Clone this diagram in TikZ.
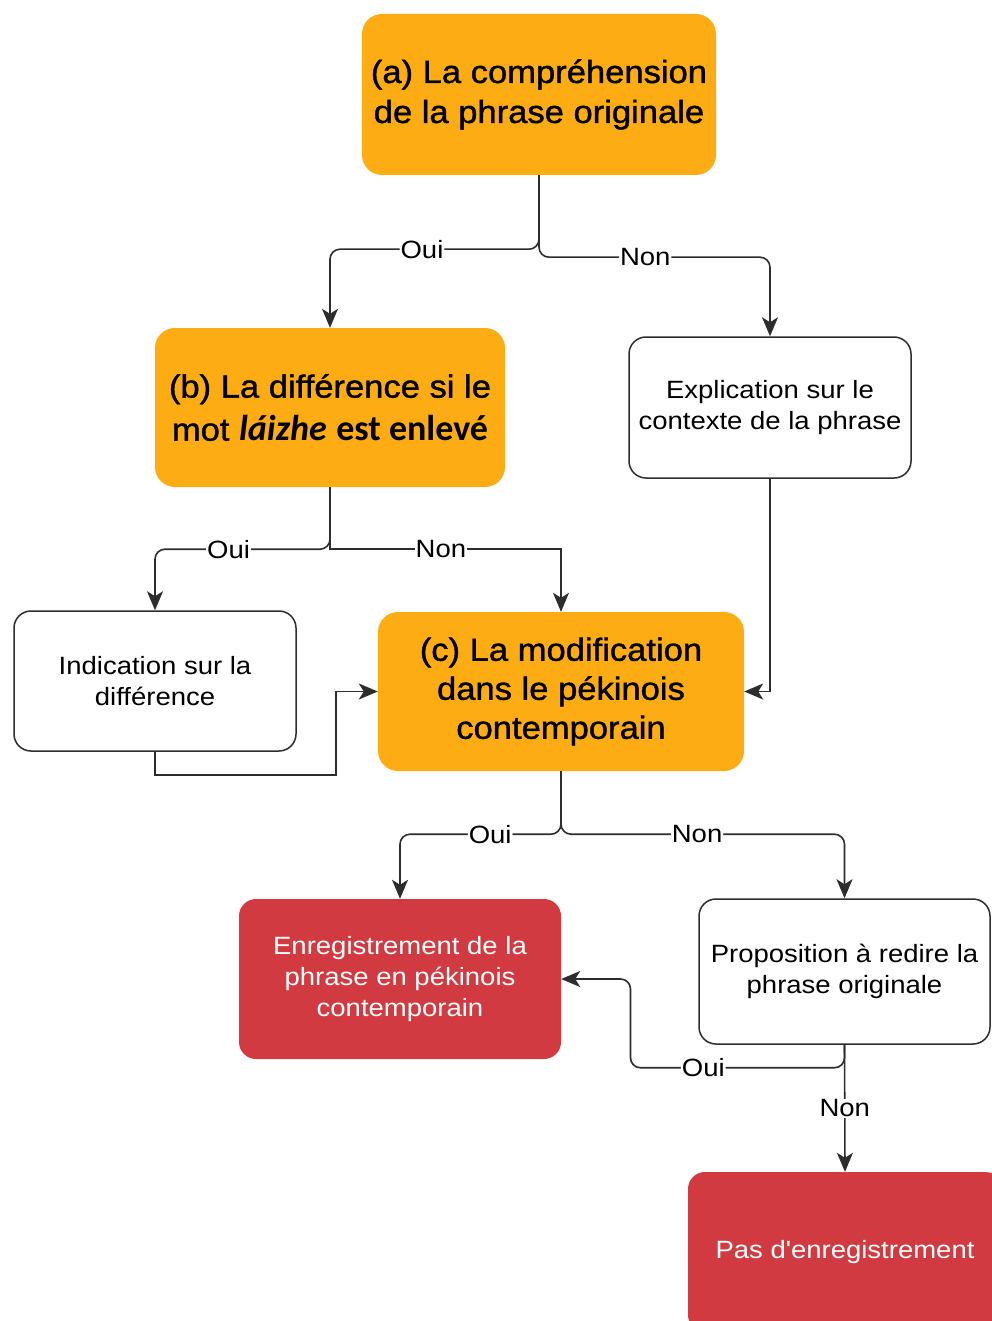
\documentclass[tikz,border=0pt]{standalone}
\usepackage{fontspec}
\setmainfont{Liberation Sans}[FakeStretch=1.1]
\newfontfamily\heavy{Liberation Sans}[FakeStretch=1.08, FakeBold=1.2]
\newfontfamily\nomap{Liberation Sans}[FakeStretch=1.1, Ligatures=TeXOff]
\newfontfamily\calib{Carlito}
\usetikzlibrary{arrows.meta}
\definecolor{orangefill}{RGB}{253,172,20}
\definecolor{redfill}{RGB}{208,58,64}
\definecolor{linec}{RGB}{45,45,45}
\begin{document}
\begin{tikzpicture}[x=1pt,y=-1pt,
  obox/.style={rectangle, rounded corners=20pt, fill=orangefill, draw=none, align=center, inner sep=0pt, text=black, font=\heavy\fontsize{32}{40}\selectfont},
  wbox/.style={rectangle, rounded corners=17pt, fill=white, draw=linec, line width=1.5pt, align=center, inner sep=0pt, text=black, font=\fontsize{25}{31}\selectfont},
  rbox/.style={rectangle, rounded corners=17pt, fill=redfill, draw=none, align=center, inner sep=0pt, text=white, font=\fontsize{25}{31}\selectfont},
  conn/.style={draw=linec, line width=1.6pt, rounded corners=10pt, -{Stealth[length=19pt,width=16pt,inset=5pt]}},
  plainconn/.style={draw=linec, line width=1.6pt, -{Stealth[length=19pt,width=16pt,inset=5pt]}},
  lbl/.style={fill=white, inner sep=1pt, text=black, font=\fontsize{25}{30}\selectfont}
]
\useasboundingbox (0,0) rectangle (992,1321);
\fill[white] (0,0) rectangle (992,1321);
\clip (0,0) rectangle (992,1321);

\node[obox, minimum width=354pt, minimum height=161pt] (A) at (539,94.5)
  {(a) La compréhension\\de la phrase originale};
\node[obox, minimum width=350pt, minimum height=159pt, font=\heavy\fontsize{32}{43}\selectfont] (B) at (330,407.5)
  {(b) La différence si le\\mot {\calib\fontsize{36}{43}\selectfont\bfseries\itshape láizhe} {\calib\fontsize{36}{43}\selectfont\bfseries est enlevé}};
\node[wbox, minimum width=282pt, minimum height=141pt] (E) at (770,407.5)
  {Explication sur le\\contexte de la phrase};
\node[wbox, minimum width=282pt, minimum height=140pt] (I) at (155,681)
  {Indication sur la\\différence};
\node[obox, minimum width=366pt, minimum height=159pt, font=\heavy\fontsize{32}{39}\selectfont] (C) at (561,691.5)
  {(c) La modification\\dans le pékinois\\contemporain};
\node[rbox, minimum width=322pt, minimum height=160pt] (R) at (400,979)
  {Enregistrement de la\\phrase en pékinois\\contemporain};
\node[wbox, minimum width=291pt, minimum height=145pt] (P) at (844.5,971.5)
  {Proposition à redire la\\phrase originale};
\node[rbox, minimum width=314pt, minimum height=160pt, font=\nomap\fontsize{25}{31}\selectfont] (X) at (845,1252)
  {Pas d'enregistrement};

\draw[conn] (A.south) -- ++(0,74) -| node[lbl, pos=0.28]{Oui} (B.north);
\draw[conn] (A.south) -- ++(0,82) -| node[lbl, pos=0.23]{Non} (E.north);
\draw[conn] (B.south) -- ++(0,62) -| node[lbl, pos=0.29]{Oui} (I.north);
\draw[plainconn] (B.south) -- ++(0,62) -| node[lbl, pos=0.24]{Non} (C.north);
\draw[plainconn] (I.south) -- ++(0,23) -- ++(181,0) |- (C.west);
\draw[plainconn] (E.south) |- (C.east);
\draw[conn] (C.south) -- ++(0,63) -| node[lbl, pos=0.22]{Oui} (R.north);
\draw[conn] (C.south) -- ++(0,63) -| node[lbl, pos=0.24]{Non} (P.north);
\draw[conn] (P.south) -- ++(0,23) -- node[lbl, pos=0.66]{Oui} ++(-214,0) |- (R.east);
\draw[plainconn] (P.south) -- node[lbl]{Non} (X.north);
\end{tikzpicture}
\end{document}
